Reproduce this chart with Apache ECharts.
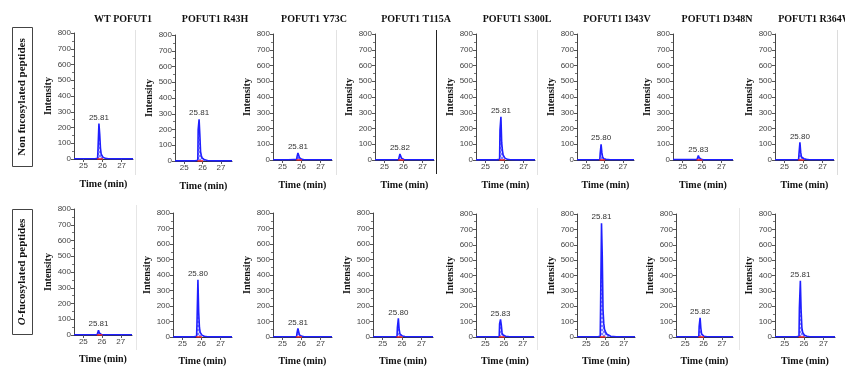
<!DOCTYPE html>
<html>
<head>
<meta charset="utf-8">
<script src="https://cdn.jsdelivr.net/npm/echarts@6/dist/echarts.min.js"></script>
<style>html,body{margin:0;padding:0;background:#fff}#c{width:845px;height:367px}</style>
</head>
<body>
<div id="c"></div>
<script>
// ---------- DATA ----------
const panelTitles = ['WT POFUT1','POFUT1 R43H','POFUT1 Y73C','POFUT1 T115A','POFUT1 S300L','POFUT1 I343V','POFUT1 D348N','POFUT1 R364W'];
const rowTitles = ['Non fucosylated peptides','{i|O}-fucosylated peptides'];
const xTicks = [25, 26, 27];
const yTicks = [0,100,200,300,400,500,600,700,800];
const times = [24.5, 25.3, 25.6, 25.74, 25.76, 25.81, 25.85, 25.89, 25.93, 25.97, 26.02, 26.08, 26.15, 26.3, 26.6, 27.6];
const peakIndex = 5;
const integStart = 25.72, integEnd = 26.02;

// Row 1: non fucosylated peptides
const nonWT    = [2,2,2,4,60,225,160,70,30,18,12,8,4,2,1,1];
const nonR43H  = [1,1,1,5,200,265,170,60,35,20,15,10,5,2,1,1];
const nonY73C  = [2,2,3,3,20,45,30,14,8,6,4,3,2,2,2,2];
const nonT115A = [2,2,2,3,15,38,25,12,6,4,3,2,2,2,2,2];
const nonS300L = [1,1,1,4,190,275,110,60,30,18,12,8,4,2,1,1];
const nonI343V = [2,2,2,3,40,100,50,20,10,7,5,4,3,2,2,2];
const nonD348N = [3,3,3,3,15,28,15,8,5,4,3,2,2,2,2,2];
const nonR364W = [2,2,2,3,40,112,50,20,12,10,8,6,4,2,2,2];
const nonPeakLabels = ['25.81','25.81','25.81','25.82','25.81','25.80','25.83','25.80'];

// Row 2: O-fucosylated peptides
const ofuWT    = [2,2,2,3,12,30,14,6,4,3,3,2,2,2,2,2];
const ofuR43H  = [1,1,1,5,90,370,160,60,30,18,12,8,5,2,1,1];
const ofuY73C  = [2,2,2,3,25,55,35,14,8,6,4,3,2,2,2,2];
const ofuT115A = [2,2,2,3,60,120,50,20,12,8,6,4,3,2,2,2];
const ofuS300L = [2,2,2,3,85,115,80,30,15,10,7,5,3,2,2,2];
const ofuI343V = [2,2,2,5,190,740,530,180,90,50,35,20,10,5,2,2];
const ofuD348N = [2,2,2,3,70,125,60,20,10,7,5,4,3,2,2,2];
const ofuR364W = [2,2,2,5,190,365,170,60,30,18,12,8,5,2,1,1];
const ofuPeakLabels = ['25.81','25.80','25.81','25.80','25.83','25.81','25.82','25.81'];

const rowsData = [
  [nonWT, nonR43H, nonY73C, nonT115A, nonS300L, nonI343V, nonD348N, nonR364W],
  [ofuWT, ofuR43H, ofuY73C, ofuT115A, ofuS300L, ofuI343V, ofuD348N, ofuR364W]
];
const rowsLabels = [nonPeakLabels, ofuPeakLabels];

// ---------- LAYOUT ----------
const layout = [
  {lefts:[74,175,273,375,476,577,673,775], widths:[59,57,59,59,59,57,60,59], tops:[33,35,34,34,34,34,34,34], h:126, nameGap:20},
  {lefts:[74,173,273,373,476,577,676,775], widths:[58,59,59,60,58,58,57,60], tops:[209,213,213,213,214,214,214,214], h:126, nameGap:19}
];
const titleCenters = [118,210,309,411,512,612,712,810];

// hatch pattern
const pc = document.createElement('canvas');
pc.width = 4; pc.height = 4;
const pctx = pc.getContext('2d');
pctx.fillStyle = 'rgba(215,215,255,0.9)';
pctx.fillRect(0,0,4,4);
pctx.strokeStyle = 'rgba(90,90,255,0.9)';
pctx.lineWidth = 0.8;
pctx.beginPath();
pctx.moveTo(0,0); pctx.lineTo(4,4);
pctx.moveTo(4,0); pctx.lineTo(0,4);
pctx.stroke();

const serif = '"Liberation Serif", "DejaVu Serif", serif';
const sans = '"Liberation Sans", Arial, sans-serif';

const grids = [], xAxes = [], yAxes = [], series = [], titles = [];
let gi = 0;
for (let r = 0; r < 2; r++) {
  const L = layout[r];
  for (let c = 0; c < 8; c++) {
    grids.push({left: L.lefts[c], top: L.tops[c], width: L.widths[c], height: L.h, containLabel: false});
    xAxes.push({
      type: 'value', gridIndex: gi, min: 24.5, max: 27.6,
      name: 'Time (min)', nameLocation: 'middle', nameGap: L.nameGap,
      nameTextStyle: {fontFamily: serif, fontWeight: 'bold', fontSize: 10, color: '#111'},
      axisLine: {show: true, lineStyle: {color: '#333', width: 1}},
      axisTick: {show: true, customValues: xTicks, length: 3, lineStyle: {color: '#555'}},
      axisLabel: {customValues: xTicks, fontFamily: sans, fontSize: 8, color: '#444', margin: 3},
      splitLine: {show: false}
    });
    yAxes.push({
      type: 'value', gridIndex: gi, min: 0, max: 800, interval: 100,
      name: 'Intensity', nameLocation: 'middle', nameGap: 21,
      nameTextStyle: {fontFamily: serif, fontWeight: 'bold', fontSize: 10, color: '#111'},
      axisLine: {show: true, lineStyle: {color: '#444', width: 1}},
      axisTick: {show: true, length: 3, lineStyle: {color: '#555'}},
      minorTick: {show: true, splitNumber: 2, length: 2, lineStyle: {color: '#777'}},
      axisLabel: {fontFamily: sans, fontSize: 8, color: '#444', margin: 3},
      splitLine: {show: false}
    });
    const vals = rowsData[r][c];
    const lab = rowsLabels[r][c];
    const data = times.map((t, i) => {
      if (i === peakIndex) {
        return {value: [t, vals[i]], label: {show: true, position: 'top', distance: 2, formatter: lab,
          fontFamily: sans, fontSize: 8, color: '#333'}};
      }
      return [t, vals[i]];
    });
    series.push({
      type: 'line', xAxisIndex: gi, yAxisIndex: gi, data: data,
      symbol: 'circle', symbolSize: 0, showSymbol: true, smooth: false, z: 3,
      itemStyle: {color: 'transparent'},
      lineStyle: {color: '#1f1fff', width: 1.6},
      areaStyle: {color: {image: pc, repeat: 'repeat'}, opacity: 1},
      label: {show: false}
    });
    series.push({
      type: 'line', xAxisIndex: gi, yAxisIndex: gi,
      data: [[integStart, 0], [integEnd, 0]],
      symbol: 'none', z: 4, silent: true,
      lineStyle: {color: '#ff2020', width: 1.6}
    });
    gi++;
  }
}
for (let c = 0; c < 8; c++) {
  titles.push({text: panelTitles[c], left: titleCenters[c], top: 9, textAlign: 'center',
    textStyle: {fontFamily: serif, fontWeight: 'bold', fontSize: 10, color: '#111'}});
}

const graphics = [];
const boxes = [{x: 12.5, y: 27.5, h: 139}, {x: 12.5, y: 209.5, h: 125}];
boxes.forEach((b, i) => {
  graphics.push({type: 'rect', shape: {x: b.x, y: b.y, width: 20, height: b.h},
    style: {fill: '#fff', stroke: '#444', lineWidth: 1}});
  graphics.push({type: 'text', x: b.x + 10, y: b.y + b.h / 2, rotation: Math.PI / 2,
    style: {text: rowTitles[i], align: 'center', verticalAlign: 'middle',
      font: 'bold 11px ' + serif, fill: '#111',
      rich: {i: {fontStyle: 'italic', fontWeight: 'bold', fontSize: 11, fontFamily: serif}}}});
});
// separators
const seps = [
  {x: 135.5, y1: 30, y2: 175, c: '#e2e2e2'}, {x: 336.5, y1: 30, y2: 175, c: '#e2e2e2'},
  {x: 436.5, y1: 30, y2: 174, c: '#222'}, {x: 537.5, y1: 30, y2: 175, c: '#e2e2e2'},
  {x: 837.5, y1: 30, y2: 175, c: '#dcdcdc'},
  {x: 136.5, y1: 205, y2: 350, c: '#e6e6e6'}, {x: 537.5, y1: 208, y2: 350, c: '#e6e6e6'},
  {x: 739.5, y1: 208, y2: 350, c: '#e6e6e6'}
];
seps.forEach(s => graphics.push({type: 'line', shape: {x1: s.x, y1: s.y1, x2: s.x, y2: s.y2},
  style: {stroke: s.c, lineWidth: 1}, z: -1}));

const chart = echarts.init(document.getElementById('c'), null, {renderer: 'canvas'});
chart.setOption({
  animation: false,
  backgroundColor: '#fff',
  title: titles,
  grid: grids, xAxis: xAxes, yAxis: yAxes, series: series,
  graphic: graphics
});
</script>
</body>
</html>
